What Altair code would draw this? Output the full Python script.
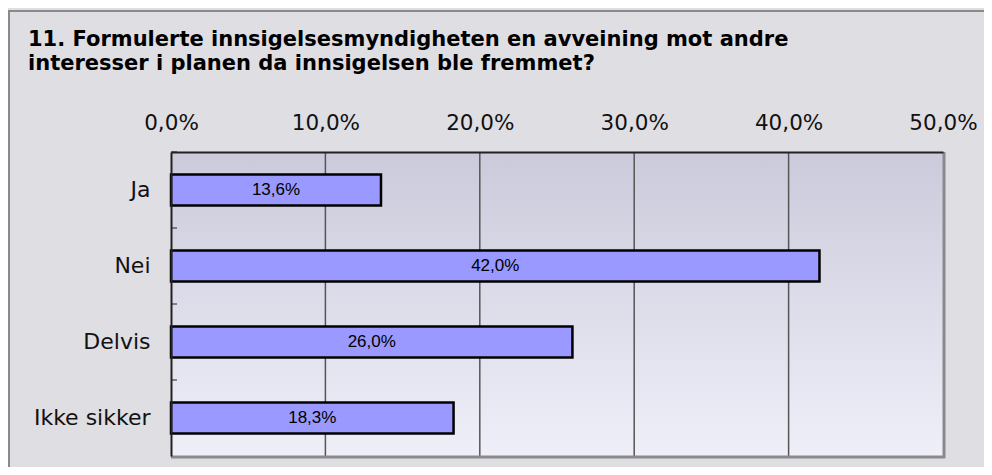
import altair as alt
import pandas as pd

categories = ["Ja", "Nei", "Delvis", "Ikke sikker"]
values = [13.6, 42.0, 26.0, 18.3]
x_ticks = [0, 10, 20, 30, 40, 50]
grid_values = [10, 20, 30, 40]
title_lines = [
    "11. Formulerte innsigelsesmyndigheten en avveining mot andre",
    "interesser i planen da innsigelsen ble fremmet?",
]

W, H = 772, 304
PAD_L, PAD_T, PAD_R, PAD_B = 163, 144, 41, 11

bars_df = pd.DataFrame({"cat": categories, "value": values})
grid_df = pd.DataFrame({"g": grid_values})
one_df = pd.DataFrame({"a": [0]})

xscale = alt.Scale(domain=[0, 50], nice=False, zero=True)
yscale = alt.Scale(domain=categories, paddingInner=0, paddingOuter=0)

label_expr = "replace(format(datum.value, '.1f'), '.', ',') + '%'"

x_axis = alt.Axis(
    orient="top", values=x_ticks, labelExpr=label_expr, title=None,
    ticks=False, grid=False, domain=True, domainColor="#222222", domainWidth=2,
    labelFont="DejaVu Sans", labelFontSize=21.5, labelColor="#111111",
    labelPadding=18, zindex=1, labelFlush=False,
)
y_axis = alt.Axis(
    orient="left", title=None, ticks=False, grid=False, domain=True,
    domainColor="#222222", domainWidth=2,
    labelFont="DejaVu Sans", labelFontSize=22, labelColor="#111111",
    labelPadding=21, zindex=1,
)

bg = alt.Chart(one_df).mark_rect(
    fill=alt.LinearGradient(
        gradient="linear",
        stops=[alt.GradientStop(offset=0, color="#cbcadb"),
               alt.GradientStop(offset=1, color="#efeff9")],
        x1=0, x2=0, y1=0, y2=1,
    )
).encode(x=alt.value(0), x2=alt.value(W), y=alt.value(0), y2=alt.value(H))

grid = alt.Chart(grid_df).mark_rule(color="#555555", strokeWidth=1.5).encode(
    x=alt.X("g:Q", scale=xscale, axis=x_axis)
)

ticks = alt.Chart(bars_df).mark_rule(color="#222222", strokeWidth=1).encode(
    y=alt.Y("cat:N", scale=yscale, sort=categories, bandPosition=0, axis=y_axis),
    x=alt.value(0),
    x2=alt.value(6),
)

bars = alt.Chart(bars_df).mark_bar(
    fill="#9999ff", stroke="black", strokeWidth=2.5,
    height=alt.RelativeBandSize(0.41),
).encode(
    x=alt.X("value:Q", scale=xscale, axis=x_axis),
    y=alt.Y("cat:N", scale=yscale, sort=categories, axis=y_axis),
)

text = alt.Chart(bars_df).transform_calculate(
    mid="datum.value / 2",
    label=label_expr,
).mark_text(font="Liberation Sans", fontSize=17, color="black", baseline="middle").encode(
    x=alt.X("mid:Q", scale=xscale, axis=x_axis),
    y=alt.Y("cat:N", scale=yscale, sort=categories, axis=y_axis),
    text="label:N",
)

right_border = alt.Chart(one_df).mark_rule(color="#8a8a8a", strokeWidth=3).encode(
    x=alt.value(W + 1), y=alt.value(0), y2=alt.value(H + 2)
)
bottom_border = alt.Chart(one_df).mark_rule(color="#8a8a8a", strokeWidth=3).encode(
    x=alt.value(0), x2=alt.value(W + 2), y=alt.value(H + 1)
)
frame_top = alt.Chart(one_df).mark_rule(color="#8a8a8a", strokeWidth=2).encode(
    x=alt.value(-PAD_L), x2=alt.value(W + PAD_R), y=alt.value(-PAD_T + 3)
)
frame_left = alt.Chart(one_df).mark_rule(color="#8a8a8a", strokeWidth=2).encode(
    x=alt.value(-PAD_L + 1), y=alt.value(-PAD_T + 2), y2=alt.value(H + PAD_B)
)

chart = alt.layer(
    bg, grid, ticks, bars, text, right_border, bottom_border, frame_top, frame_left
).properties(
    width=W, height=H,
    title=alt.Title(
        title_lines, anchor="start", frame="group", font="DejaVu Sans",
        fontSize=21, fontWeight="bold", color="black", lineHeight=24,
        dx=-143, dy=69,
    ),
    padding={"left": PAD_L, "top": PAD_T, "right": PAD_R, "bottom": PAD_B},
    autosize=alt.AutoSizeParams(type="none"),
).configure(background="#dfdee3").configure_view(stroke=None)

chart.save("out.html", embed_options={"renderer": "svg", "actions": False})
